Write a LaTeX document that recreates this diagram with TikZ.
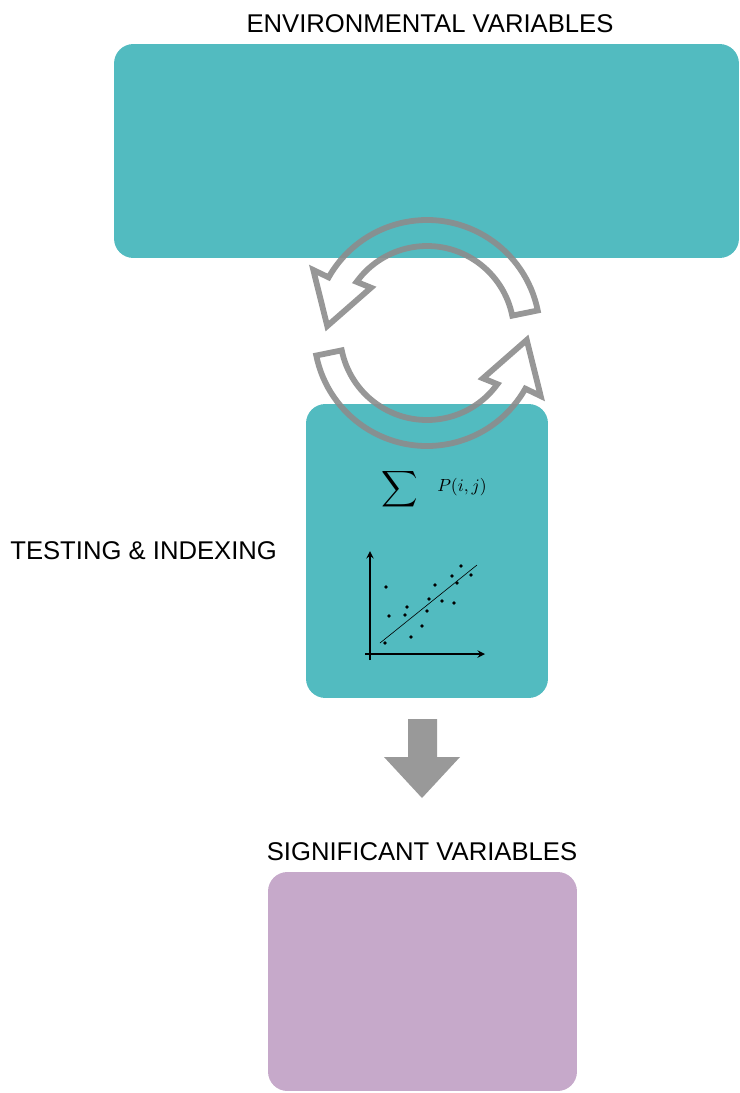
\documentclass[tikz,border=0pt]{standalone}
\usepackage{fontspec}
\setmainfont{Liberation Sans}
\usepackage{amsmath}
\definecolor{boxteal}{HTML}{52BBC0}
\definecolor{boxlilac}{HTML}{C6A9CA}
\definecolor{ringgray}{HTML}{8C8C8C}
\definecolor{arrowgray}{HTML}{999999}

\begin{document}
\begin{tikzpicture}[x=0.02cm, y=0.02cm]
\tikzstyle{every node}+=[inner sep=0pt]
\tikzstyle{box}=[rectangle, rounded corners=11pt]
\tikzstyle{lbl}=[font=\fontsize{14.6}{16}\selectfont]
\tikzstyle{ring}=[draw=ringgray, draw opacity=0.9, line width=3.3pt]
\useasboundingbox (0,0) rectangle (740,-1093);
% boxes
\node [box, fill=boxteal, minimum width=12.5cm, minimum height=4.28cm] (env) at (426.5,-151) {};
\node [box, fill=boxteal, minimum width=4.84cm, minimum height=5.88cm] (test) at (427,-551) {};
\node [box, fill=boxlilac, minimum width=6.18cm, minimum height=4.38cm] (sig) at (422.5,-981.5) {};
% labels
\node [lbl] (envlbl) at (430,-24) {ENVIRONMENTAL VARIABLES};
\node [lbl, anchor=west] (testlbl) at (10,-551) {TESTING \& INDEXING};
\node [lbl] (siglbl) at (422,-852) {SIGNIFICANT VARIABLES};
% cycle arrows
\begin{scope}[shift={(427,-333)}]
\draw [ring] (11.5:113) arc (11.5:150.5:113) -- (151:130) -- (176:100) -- (141:72) -- (144:87) arc (144:11.5:87) -- cycle;
\draw [ring] (191.5:113) arc (191.5:330.5:113) -- (331:130) -- (356:100) -- (321:72) -- (324:87) arc (324:191.5:87) -- cycle;
\end{scope}
% formula
\node (sum) at (400,-489) {\fontsize{15}{17}\selectfont$\displaystyle\sum$};
\node (prob) at (462,-487) {\fontsize{10}{12}\selectfont$P(i,j)$};
% scatter plot
\draw [line width=0.9pt, -stealth] (370,-660) -- (370,-551);
\draw [line width=0.9pt, -stealth] (365,-654) -- (485,-654);
\draw [line width=0.35pt] (380,-643) -- (477,-565);
\foreach \x/\y in {386/587, 389/616, 407/607, 405/615, 385/643, 411/637, 422/626, 427/611,
  429/599, 435/585, 442/601, 454/603, 452/576, 457/583, 461/566, 471/575}
  \fill (\x,-\y) circle (1.8);
% down arrow
\fill [arrowgray] (408,-719) -- (437,-719) -- (437,-757) -- (460,-757) -- (422,-798)
  -- (384,-757) -- (408,-757) -- cycle;
\end{tikzpicture}
\end{document}
